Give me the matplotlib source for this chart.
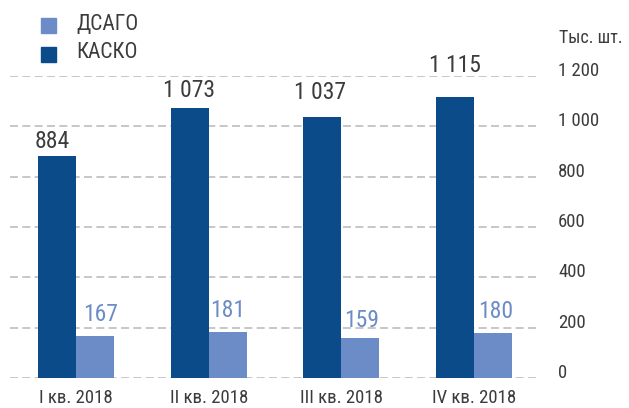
import numpy as np
import matplotlib.pyplot as plt
from matplotlib import font_manager

# шрифт: берём узкий, если он есть
installed = {f.name for f in font_manager.fontManager.ttflist}
main_font = 'Roboto'
for name in ['Roboto Condensed', 'Liberation Sans Narrow']:
    if name in installed:
        main_font = name
        break
plt.rcParams['font.family'] = [main_font, 'DejaVu Sans']

quarters = ['I кв. 2018', 'II кв. 2018', 'III кв. 2018', 'IV кв. 2018']
kasko = [884, 1073, 1037, 1115]
dsago = [167, 181, 159, 180]
kasko_labels = ['884', '1 073', '1 037', '1 115']
dsago_labels = ['167', '181', '159', '180']
yticks = [0, 200, 400, 600, 800, 1000, 1200]
ytick_labels = ['0', '200', '400', '600', '800', '1 000', '1 200']

c_kasko = '#0b4b89'
c_dsago = '#6b8cc6'
c_text = '#3c3c3c'

fig = plt.figure(figsize=(6.29, 4.08), dpi=100)
ax = fig.add_axes([10 / 629, 30 / 408, 530 / 629, 302 / 408])

x = np.arange(len(quarters))
w = 0.285
ax.bar(x - w / 2, kasko, w, color=c_kasko, zorder=3)
ax.bar(x + w / 2, dsago, w, color=c_dsago, zorder=3)

# подписи стоят в макете не на одинаковом расстоянии от столбцов
kasko_off = [(-5, 8), (-1, 11), (-2, 18), (0, 25)]
dsago_off = [(5, 15), (0, 15), (1, 11), (3, 15)]
for i in range(len(x)):
    ax.annotate(kasko_labels[i], (x[i] - w / 2, kasko[i]), xytext=kasko_off[i],
                textcoords='offset pixels', ha='center', va='baseline',
                fontsize=17, color=c_text, annotation_clip=False)
    ax.annotate(dsago_labels[i], (x[i] + w / 2, dsago[i]), xytext=dsago_off[i],
                textcoords='offset pixels', ha='center', va='baseline',
                fontsize=17, color=c_dsago, annotation_clip=False)

for t in yticks:
    ax.axhline(t, color='#bdbdbd', lw=1.2, ls=(0, (4.8, 2.6)), zorder=1)

ax.set_xlim(-0.5, 3.5)
ax.set_ylim(0, 1200)
ax.set_xticks(x)
ax.set_xticklabels(quarters, fontsize=13.5, color=c_text)
ax.set_yticks(yticks)
ax.set_yticklabels(ytick_labels, fontsize=13.5, color=c_text, va='baseline')
ax.yaxis.tick_right()
ax.tick_params(axis='both', length=0)
ax.tick_params(axis='y', pad=13)
ax.tick_params(axis='x', pad=8)
for s in ax.spines.values():
    s.set_visible(False)

fig.text(559 / 629, 1 - 38 / 408, 'Тыс. шт.', fontsize=13, color=c_text, va='center', ha='left')

# легенда вручную
fig.patches.append(plt.Rectangle((41 / 629, 1 - 33 / 408), 15 / 629, 15 / 408,
                                 transform=fig.transFigure, color=c_dsago))
fig.patches.append(plt.Rectangle((41 / 629, 1 - 62 / 408), 15 / 629, 15 / 408,
                                 transform=fig.transFigure, color=c_kasko))
fig.text(76 / 629, 1 - 24 / 408, 'ДСАГО', fontsize=15.5, color=c_text, va='center')
fig.text(76 / 629, 1 - 53 / 408, 'КАСКО', fontsize=15.5, color=c_text, va='center')

fig.savefig('out.png', dpi=100)
